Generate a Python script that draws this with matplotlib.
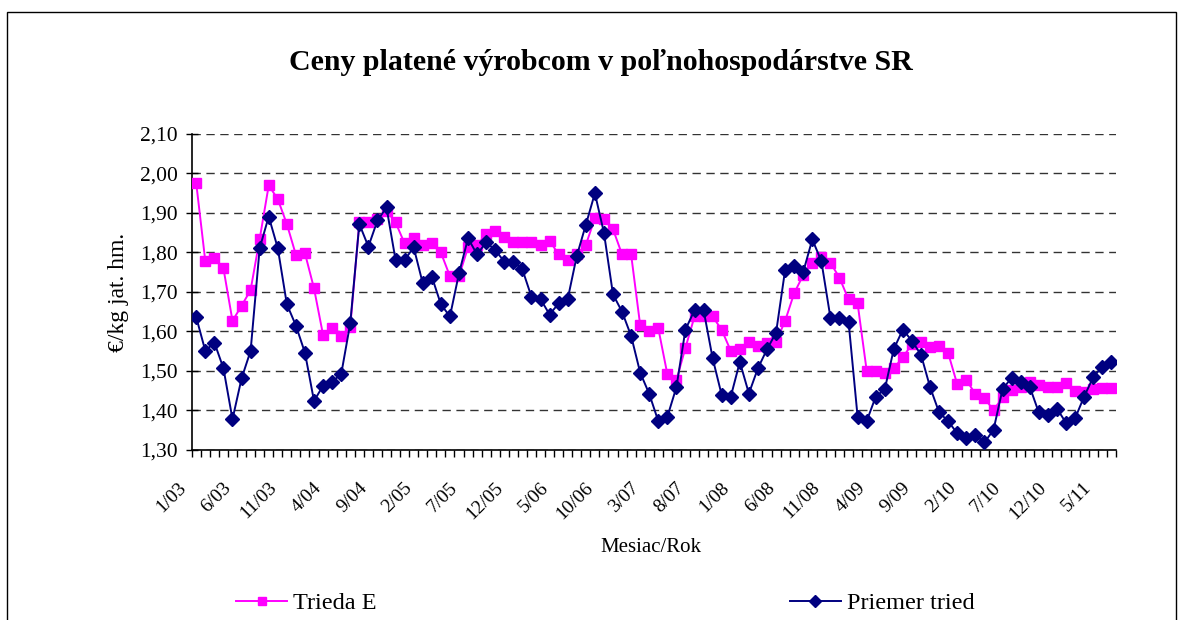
import matplotlib
matplotlib.use('Agg')
import matplotlib.pyplot as plt
from matplotlib.patches import Rectangle
from matplotlib.transforms import ScaledTranslation

plt.rcParams['font.family'] = ['Liberation Serif', 'DejaVu Serif']

# mesacne ceny, 1/03 .. 6/11
trieda_e = [1.975, 1.778, 1.785, 1.760, 1.627, 1.665, 1.705, 1.834, 1.970, 1.935,
            1.872, 1.794, 1.798, 1.709, 1.591, 1.608, 1.589, 1.612, 1.876, 1.878,
            1.884, 1.906, 1.876, 1.823, 1.836, 1.819, 1.823, 1.800, 1.740, 1.740,
            1.813, 1.819, 1.846, 1.854, 1.838, 1.826, 1.826, 1.826, 1.819, 1.830,
            1.795, 1.781, 1.795, 1.819, 1.887, 1.884, 1.859, 1.795, 1.795, 1.616,
            1.600, 1.608, 1.492, 1.477, 1.559, 1.638, 1.638, 1.638, 1.604, 1.551,
            1.555, 1.574, 1.563, 1.570, 1.574, 1.627, 1.697, 1.743, 1.774, 1.789,
            1.774, 1.736, 1.681, 1.671, 1.501, 1.501, 1.494, 1.507, 1.535, 1.568,
            1.574, 1.560, 1.564, 1.545, 1.466, 1.477, 1.442, 1.431, 1.401, 1.433,
            1.452, 1.460, 1.473, 1.465, 1.460, 1.460, 1.469, 1.449, 1.448, 1.454,
            1.456, 1.456]

priemer = [1.636, 1.551, 1.572, 1.507, 1.378, 1.481, 1.551, 1.811, 1.891, 1.811,
           1.669, 1.615, 1.546, 1.424, 1.463, 1.473, 1.492, 1.621, 1.872, 1.815,
           1.881, 1.914, 1.781, 1.781, 1.813, 1.722, 1.739, 1.669, 1.638, 1.747,
           1.836, 1.795, 1.826, 1.806, 1.777, 1.777, 1.757, 1.688, 1.682, 1.643,
           1.671, 1.682, 1.791, 1.870, 1.950, 1.850, 1.694, 1.650, 1.589, 1.496,
           1.442, 1.373, 1.384, 1.459, 1.605, 1.654, 1.654, 1.532, 1.439, 1.435,
           1.523, 1.443, 1.507, 1.555, 1.597, 1.756, 1.767, 1.751, 1.833, 1.778,
           1.635, 1.635, 1.625, 1.384, 1.373, 1.435, 1.454, 1.556, 1.605, 1.576,
           1.541, 1.459, 1.395, 1.373, 1.342, 1.331, 1.338, 1.319, 1.351, 1.454,
           1.483, 1.473, 1.460, 1.395, 1.389, 1.405, 1.369, 1.380, 1.435, 1.484,
           1.511, 1.522]

tick_labels = ['1/03', '6/03', '11/03', '4/04', '9/04', '2/05', '7/05', '12/05',
               '5/06', '10/06', '3/07', '8/07', '1/08', '6/08', '11/08', '4/09',
               '9/09', '2/10', '7/10', '12/10', '5/11']
y_ticks = [1.30, 1.40, 1.50, 1.60, 1.70, 1.80, 1.90, 2.00, 2.10]

n = len(trieda_e)
x = list(range(n))

fig = plt.figure(figsize=(11.82, 6.2), dpi=100)
ax = fig.add_axes([0.1622, 0.2742, 0.7818, 0.5097])

# ramik okolo grafu
fig.patches.append(Rectangle((7 / 1182, -0.1), 1169 / 1182, 1.1 - 12 / 620,
                             transform=fig.transFigure, fill=False,
                             edgecolor='black', linewidth=1.0))

l1, = ax.plot(x, trieda_e, color='#FF00FF', marker='s', markersize=7.5,
              linewidth=1.4, label='Trieda E', zorder=3)
l2, = ax.plot(x, priemer, color='#000080', marker='D', markersize=7.5,
              linewidth=1.4, label='Priemer tried', zorder=4)

ax.set_xlim(-0.5, n - 0.5)
ax.set_ylim(1.30, 2.10)
ax.set_yticks(y_ticks)
ax.set_yticklabels([('%.2f' % v).replace('.', ',') for v in y_ticks], fontsize=15.5)
ax.yaxis.grid(True, linestyle=(0, (6, 4)), color='#333333', linewidth=1.0)
ax.set_axisbelow(True)

# kategorie - hlavne ticky na hraniciach, popisky kazdy 5. mesiac
ax.set_xticks([i - 0.5 for i in range(n + 1)])
ax.set_xticklabels([])
ax.set_xticks(list(range(0, n, 5)), minor=True)
ax.set_xticklabels(tick_labels, minor=True, rotation=45, ha='right', va='top',
                   rotation_mode='anchor', fontsize=14)
ax.tick_params(axis='x', which='major', direction='out', length=5, width=1)
ax.tick_params(axis='x', which='minor', length=0, pad=21)
ax.tick_params(axis='y', direction='inout', length=8, width=1, pad=6)
for lab in ax.get_xticklabels(minor=True):
    lab.set_transform(lab.get_transform() + ScaledTranslation(-0.19, 0, fig.dpi_scale_trans))

for s in ['top', 'right']:
    ax.spines[s].set_visible(False)
for s in ['left', 'bottom']:
    ax.spines[s].set_linewidth(1.2)

ax.set_ylabel('€/kg jat. hm.', fontsize=17, labelpad=8)
fig.text(651 / 1182, 1 - 548 / 620, 'Mesiac/Rok', fontsize=15, ha='center', va='center')
fig.text(601 / 1182, 1 - 62 / 620, 'Ceny platené výrobcom v poľnohospodárstve SR',
         fontsize=21.5, fontweight='bold', ha='center', va='center')

fig.legend([l1, l2], ['Trieda E', 'Priemer tried'], ncol=2, frameon=False,
           loc='center left', bbox_to_anchor=(236 / 1182, 1 - 603 / 620),
           fontsize=17.5, handlelength=2.1, handletextpad=0.25,
           columnspacing=17, markerscale=0.8, borderpad=0, borderaxespad=0)

fig.savefig('out.png', dpi=100)
